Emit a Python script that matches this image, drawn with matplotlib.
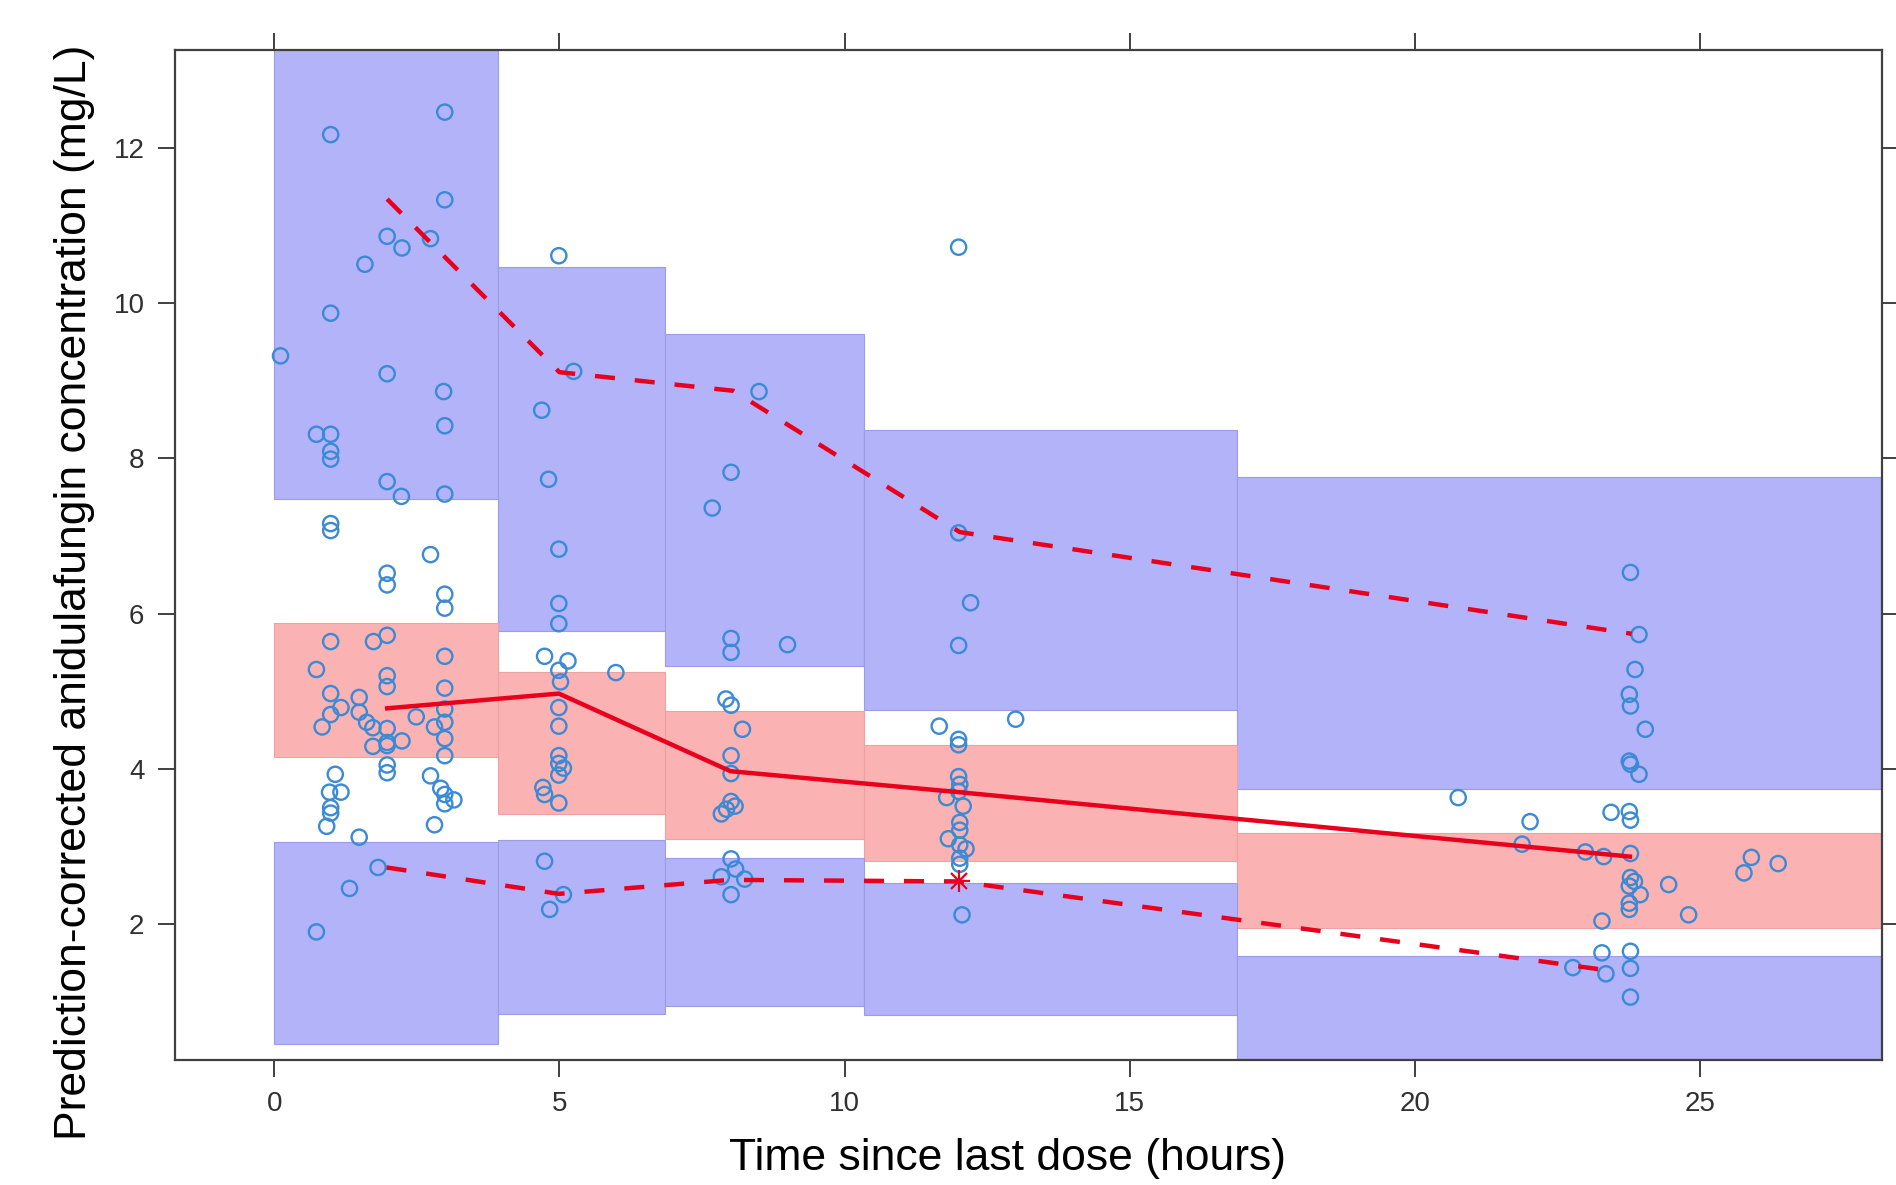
import matplotlib
matplotlib.use("Agg")
import matplotlib.pyplot as plt
import numpy as np

plt.rcParams['font.family'] = ['Liberation Sans', 'DejaVu Sans']

# time bins and simulated prediction intervals (upper / median / lower band)
bin_edges = [0.0, 3.92, 6.85, 10.34, 16.88, 30.0]
upper_pi_hi = [14.5, 10.47, 9.60, 8.36, 7.76]
upper_pi_lo = [7.47, 5.78, 5.32, 4.76, 3.74]
mid_pi_hi = [5.88, 5.25, 4.75, 4.31, 3.18]
mid_pi_lo = [4.15, 3.42, 3.10, 2.81, 1.95]
lower_pi_hi = [3.06, 3.09, 2.85, 2.53, 1.59]
lower_pi_lo = [0.45, 0.84, 0.94, 0.83, 0.0]

# observed percentiles
med_x = [1.98, 4.99, 8.00, 12.00, 23.77]
med_y = [4.78, 4.97, 3.97, 3.70, 2.87]
p95_x = [1.98, 5.00, 8.05, 12.02, 23.80]
p95_y = [11.34, 9.11, 8.87, 7.05, 5.74]
p05_x = [1.97, 4.99, 7.99, 11.99, 23.42]
p05_y = [2.73, 2.39, 2.57, 2.55, 1.40]

# observed percentile outside the interval
flag_x = [12.0]
flag_y = [2.55]

# prediction-corrected observations
obs_time = [
    0.99, 2.99, 2.99, 1.98, 2.24, 2.74, 1.59, 0.99, 0.11, 1.98, 2.97, 2.99, 0.74, 0.99, 0.99, 0.99,
    1.98, 2.23, 2.99, 0.99, 0.99, 2.74, 1.98, 1.98, 2.99, 2.99, 0.99, 1.74, 1.98, 2.99, 0.74, 1.98,
    1.98, 2.99, 0.99, 1.49, 1.17, 2.99, 1.49, 0.99, 2.49, 1.62, 2.99, 0.84, 1.73, 1.98, 2.81, 2.99,
    2.24, 1.98, 1.98, 1.73, 2.99, 1.98, 1.98, 1.07, 2.74, 0.97, 1.17, 2.92, 2.99, 3.15, 2.99, 0.99,
    0.99, 0.92, 2.81, 1.49, 1.82, 1.32, 0.74,
    4.99, 5.25, 4.69, 4.81, 4.99, 4.99, 4.99, 4.74, 5.15, 4.99, 5.99, 5.02, 4.99, 4.99, 4.99, 4.99,
    5.07, 4.99, 4.71, 4.74, 4.99, 4.74, 5.07, 4.83,
    8.50, 8.01, 7.68, 8.01, 8.01, 9.00, 7.92, 8.01, 8.21, 8.01, 8.01, 8.01, 8.08, 7.93, 7.84, 8.01,
    8.09, 7.84, 8.25, 8.01,
    12.0, 12.0, 12.21, 12.0, 11.66, 13.0, 12.0, 12.0, 12.0, 12.02, 12.0, 11.79, 12.08, 12.02, 12.02,
    11.82, 12.02, 12.13, 12.02, 12.02, 12.06,
    23.78, 23.93, 23.86, 23.76, 23.78, 24.04, 23.76, 23.78, 23.93, 20.76, 22.02, 23.44, 23.76, 23.78,
    21.88, 22.99, 23.31, 23.78, 25.90, 26.37, 25.77, 23.78, 23.85, 23.76, 23.95, 24.45, 23.76, 23.76,
    24.80, 23.28, 23.28, 23.78, 23.78, 22.77, 23.35, 23.78,
]
obs_conc = [
    12.17, 12.46, 11.33, 10.86, 10.71, 10.83, 10.50, 9.87, 9.32, 9.09, 8.86, 8.42, 8.31, 8.31, 8.09, 7.99,
    7.70, 7.51, 7.54, 7.16, 7.07, 6.76, 6.52, 6.37, 6.25, 6.07, 5.64, 5.64, 5.72, 5.45, 5.28, 5.20,
    5.06, 5.04, 4.97, 4.92, 4.79, 4.77, 4.73, 4.70, 4.67, 4.60, 4.60, 4.54, 4.53, 4.52, 4.54, 4.39,
    4.36, 4.34, 4.30, 4.29, 4.17, 4.05, 3.95, 3.93, 3.91, 3.70, 3.70, 3.75, 3.67, 3.60, 3.55, 3.50,
    3.43, 3.26, 3.28, 3.12, 2.73, 2.46, 1.90,
    10.61, 9.12, 8.62, 7.73, 6.83, 6.13, 5.87, 5.45, 5.39, 5.27, 5.24, 5.12, 4.79, 4.55, 4.17, 4.07,
    4.01, 3.92, 3.76, 3.67, 3.56, 2.81, 2.38, 2.19,
    8.86, 7.82, 7.36, 5.68, 5.50, 5.60, 4.90, 4.82, 4.51, 4.17, 3.94, 3.58, 3.52, 3.48, 3.42, 2.84,
    2.71, 2.61, 2.58, 2.38,
    10.72, 7.04, 6.14, 5.59, 4.55, 4.64, 4.38, 4.31, 3.90, 3.80, 3.71, 3.63, 3.52, 3.31, 3.21,
    3.10, 3.02, 2.97, 2.85, 2.77, 2.12,
    6.53, 5.73, 5.28, 4.96, 4.81, 4.51, 4.10, 4.06, 3.93, 3.63, 3.32, 3.44, 3.45, 3.34,
    3.03, 2.93, 2.87, 2.91, 2.86, 2.78, 2.66, 2.60, 2.55, 2.49, 2.38, 2.51, 2.27, 2.19,
    2.12, 2.04, 1.63, 1.65, 1.43, 1.44, 1.36, 1.06,
]

blue_band = '#b3b3fa'
red_band = '#fbb2b2'
line_red = '#e8001c'
pt_blue = '#3a8ad6'
frame = '#404040'

fig = plt.figure(figsize=(18.96, 11.85), dpi=100)
ax = fig.add_axes([0.0923, 0.1055, 0.9003, 0.8523])

lefts = bin_edges[:-1]
widths = np.diff(bin_edges)
ax.bar(lefts, np.array(upper_pi_hi) - np.array(upper_pi_lo), width=widths, bottom=upper_pi_lo,
       align='edge', color=blue_band, edgecolor='#9c9ce6', linewidth=0.8, zorder=1)
ax.bar(lefts, np.array(mid_pi_hi) - np.array(mid_pi_lo), width=widths, bottom=mid_pi_lo,
       align='edge', color=red_band, edgecolor='#f0a0a0', linewidth=0.8, zorder=1)
ax.bar(lefts, np.array(lower_pi_hi) - np.array(lower_pi_lo), width=widths, bottom=lower_pi_lo,
       align='edge', color=blue_band, edgecolor='#9c9ce6', linewidth=0.8, zorder=1)

ax.scatter(obs_time, obs_conc, s=120, facecolors='none', edgecolors=pt_blue, linewidths=1.7, zorder=3)

ax.plot(med_x, med_y, color=line_red, lw=3.2, zorder=4)
ax.plot(p95_x, p95_y, color=line_red, lw=3.2, ls=(0, (4.5, 4.5)), zorder=4)
ax.plot(p05_x, p05_y, color=line_red, lw=3.2, ls=(0, (4.5, 4.5)), zorder=4)
ax.plot(flag_x, flag_y, ls='none', marker='+', ms=16, mew=1.6, color=line_red, zorder=5)
ax.plot(flag_x, flag_y, ls='none', marker='x', ms=12, mew=1.6, color=line_red, zorder=5)

ax.set_xlim(-1.74, 28.19)
ax.set_ylim(0.25, 13.26)
ax.set_xticks([0, 5, 10, 15, 20, 25])
ax.set_yticks([2, 4, 6, 8, 10, 12])

for s in ax.spines.values():
    s.set_color(frame)
    s.set_linewidth(1.6)
ax.tick_params(axis='both', which='both', direction='out', length=12, width=1.4, color=frame,
               labelsize=20, labelcolor='#303030', top=True, right=True, pad=10)

ax.set_xlabel("Time since last dose (hours)", fontsize=32)
ax.set_ylabel("Prediction-corrected anidulafungin concentration (mg/L)", fontsize=32)
ax.xaxis.label.set_va('center')
ax.xaxis.set_label_coords(0.4876, -0.098)
ax.yaxis.label.set_va('center')
ax.yaxis.set_label_coords(-0.0587, 0.463)

plt.savefig("out.png", dpi=100)
